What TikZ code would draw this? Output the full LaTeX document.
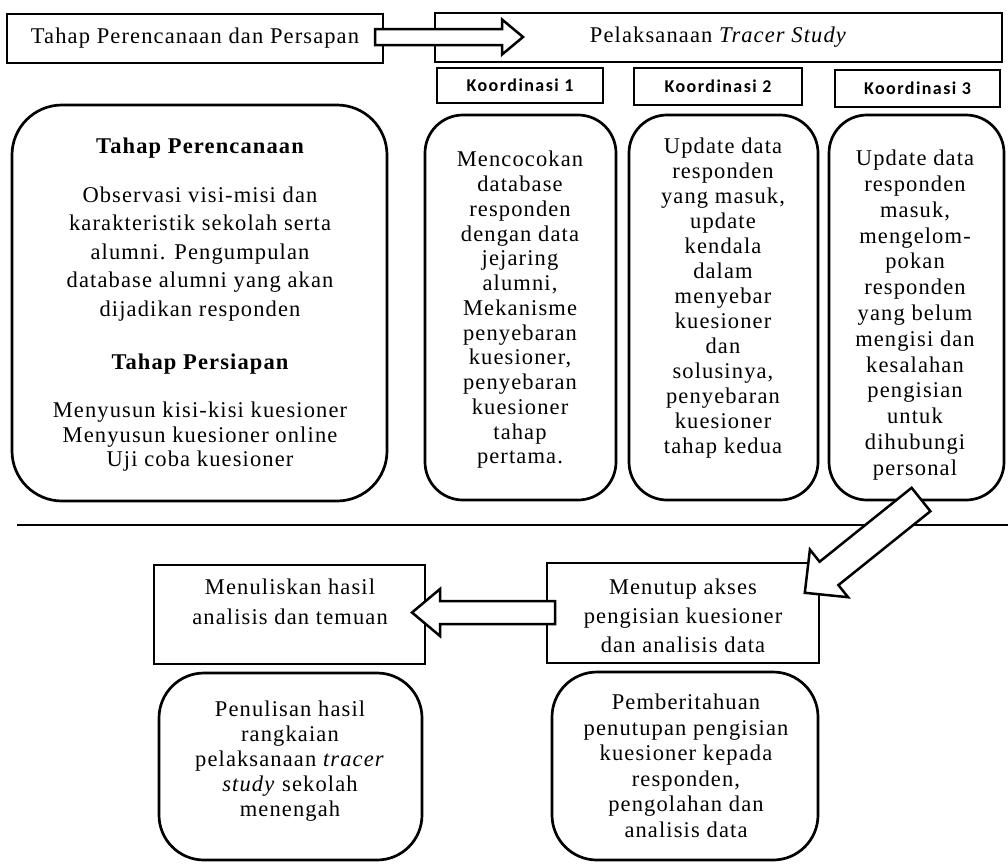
\documentclass[tikz,border=0pt]{standalone}
\usepackage{fontspec}
\setmainfont{Liberation Serif}[LetterSpace=5]
\newfontfamily\kfont{Carlito}[LetterSpace=8]
\begin{document}
\begin{tikzpicture}[x=1pt,y=-1pt,
  box/.style={draw=black, line width=2.7pt, fill=white, inner sep=0pt, outer sep=0pt},
  rbox/.style={box, rounded corners=40pt},
  txt/.style={align=center, inner sep=0pt, font=\fontsize{22.5}{25}\selectfont},
  kstyle/.style={box, font=\kfont\bfseries\fontsize{18}{20}\selectfont},
  blockarrow/.style={draw=black, line width=2.5pt, fill=white, line join=miter},
  sepline/.style={draw=black, line width=2.4pt}]
\useasboundingbox (0,0) rectangle (1008,863);

% top row
\node[box, minimum width=376, minimum height=49, txt] (plan) at (195,38.5) {Tahap Perencanaan dan Persapan};
\node[box, minimum width=567, minimum height=49, txt] (pel) at (718.5,37.5) {Pelaksanaan \textit{Tracer Study}};
\node[kstyle, minimum width=166, minimum height=35] (k1) at (520,85.5) {Koordinasi 1};
\node[kstyle, minimum width=168, minimum height=37] (k2) at (718,86.5) {Koordinasi 2};
\node[kstyle, minimum width=165, minimum height=37] (k3) at (917.5,88.5) {Koordinasi 3};

% big rounded boxes
\node[rbox, rounded corners=50pt, minimum width=375, minimum height=396] (prep) at (199.5,303) {};
\node[rbox, rounded corners=38pt, minimum width=191, minimum height=385] (c1) at (520.5,307.5) {};
\node[rbox, rounded corners=38pt, minimum width=189, minimum height=385] (c2) at (723.5,307.5) {};
\node[rbox, rounded corners=38pt, minimum width=175, minimum height=385] (c3) at (916.5,307.5) {};

\node[txt, font=\fontsize{22.5}{25}\selectfont\bfseries] (h1) at (200,148) {Tahap Perencanaan};
\node[txt, font=\fontsize{22.5}{28.5}\selectfont] (p1) at (200,254) {Observasi visi-misi dan\\karakteristik sekolah serta\\alumni. Pengumpulan\\database alumni yang akan\\dijadikan responden};
\node[txt, font=\fontsize{22.5}{25}\selectfont\bfseries] (h2) at (200,364) {Tahap Persiapan};
\node[txt, font=\fontsize{22.5}{24.5}\selectfont] (p2) at (200,437) {Menyusun kisi-kisi kuesioner\\Menyusun kuesioner online\\Uji coba kuesioner};

\node[txt, font=\fontsize{22.5}{24.75}\selectfont] (t1) at (520,310) {Mencocokan\\database\\responden\\dengan data\\jejaring\\alumni,\\Mekanisme\\penyebaran\\kuesioner,\\penyebaran\\kuesioner\\tahap\\pertama.};
\node[txt, font=\fontsize{22.5}{25}\selectfont] (t2) at (723,298) {Update data\\responden\\yang masuk,\\update\\kendala\\dalam\\menyebar\\kuesioner\\dan\\solusinya,\\penyebaran\\kuesioner\\tahap kedua};
\node[txt, font=\fontsize{22.5}{25.8}\selectfont] (t3) at (915,315) {Update data\\responden\\masuk,\\mengelom-\\pokan\\responden\\yang belum\\mengisi dan\\kesalahan\\pengisian\\untuk\\dihubungi\\personal};

% separator
\coordinate (sepL) at (17,525);
\coordinate (sepR) at (1008,525);
\draw[sepline] (sepL) -- (sepR);

% bottom part
\node[box, minimum width=271, minimum height=99] (menul) at (289.5,614.5) {};
\node[box, minimum width=272, minimum height=100] (menut) at (683,613) {};
\node[rbox, rounded corners=45pt, minimum width=263, minimum height=187] (penul) at (290.5,766.5) {};
\node[rbox, rounded corners=45pt, minimum width=266, minimum height=188] (pemb) at (685,766) {};

\node[txt, font=\fontsize{22.5}{30}\selectfont] (tm1) at (290,602) {Menuliskan hasil\\analisis dan temuan};
\node[txt, font=\fontsize{22.5}{29}\selectfont] (tm2) at (683,616) {Menutup akses\\pengisian kuesioner\\dan analisis data};
\node[txt] (tp1) at (290,761) {Penulisan hasil\\rangkaian\\pelaksanaan \textit{tracer}\\\textit{study} sekolah\\menengah};
\node[txt, font=\fontsize{22.5}{25.5}\selectfont] (tp2) at (686,766) {Pemberitahuan\\penutupan pengisian\\kuesioner kepada\\responden,\\pengolahan dan\\analisis data};

% block arrows
\draw[blockarrow] (375,29) -- (502,29) -- (502,19.5) -- (523,37) -- (502,54.5) -- (502,45) -- (375,45) -- cycle;
\draw[blockarrow] (555,601) -- (440,601) -- (440,589) -- (412,612.5) -- (440,636) -- (440,624) -- (555,624) -- cycle;
\draw[blockarrow] (911.6,487.8) -- (930.4,511.2) -- (838.4,585.1) -- (848.1,597.2) -- (804.8,592.8) -- (809.9,549.6) -- (819.6,561.7) -- cycle;
\end{tikzpicture}
\end{document}
